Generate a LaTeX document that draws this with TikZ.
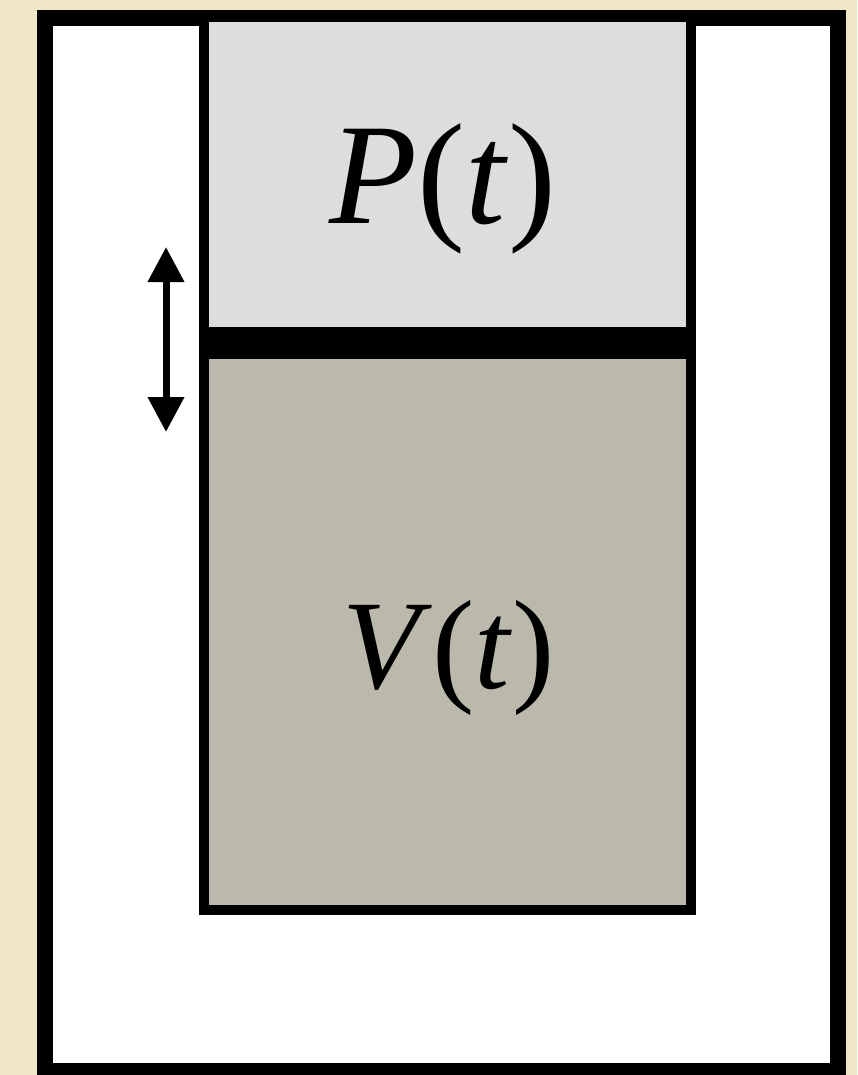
\documentclass[tikz,border=0pt]{standalone}
\usepackage{fontspec}
\setmainfont{Liberation Serif}
\usetikzlibrary{arrows.meta}
\definecolor{paper}{RGB}{240,230,200}
\definecolor{gastop}{RGB}{220,221,223}
\definecolor{gasbot}{RGB}{187,185,171}
\tikzset{
  frame/.style={draw=black, line width=8pt, fill=white},
  wall/.style={draw=black, line width=5pt, line join=miter},
  label/.style={inner sep=0pt, anchor=base, text=black},
  motion/.style={line width=3.5pt, {Triangle[length=17.5pt,width=17.5pt]}-{Triangle[length=17.5pt,width=17.5pt]}}
}
\begin{document}
\begin{tikzpicture}[x=0.5pt, y=-0.5pt]
  % canvas
  \useasboundingbox (0,0) rectangle (857,1075);
  \fill[paper] (0,0) rectangle (857,1075);
  % outer container
  \draw[frame] (45,18) rectangle (838,1071);
  % gas regions above and below the piston
  \fill[gastop] (206,22) rectangle (689,330);
  \fill[gasbot] (206,356) rectangle (689,907);
  % cylinder walls
  \draw[wall] (204,14) -- (204,910) -- (691,910) -- (691,14);
  % piston
  \fill[black] (201.5,327) rectangle (693.5,359);
  % labels
  \node[label, font=\fontsize{72pt}{72pt}\selectfont] (pressure) at (443,224) {\textit{P}(\textit{t})};
  \node[label, font=\fontsize{63.5pt}{63.5pt}\selectfont] (volume) at (449,688) {\textit{V}(\textit{t})};
  % piston motion arrow
  \coordinate (up) at (166,247);
  \coordinate (down) at (166,432);
  \draw[motion] (up) -- (down);
\end{tikzpicture}
\end{document}
